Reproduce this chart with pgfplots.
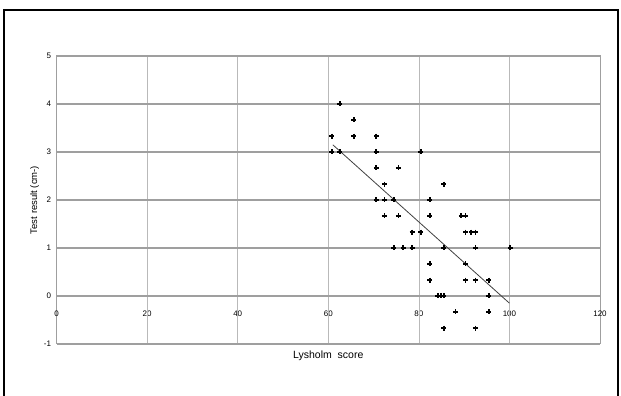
\documentclass[border=0pt]{standalone}
\usepackage{pgfplots}
\pgfplotsset{compat=1.18}
\usepackage{fontspec}
\setmainfont{Liberation Sans}
\begin{document}
\begin{tikzpicture}
\begin{axis}[
  at={(0,0)}, anchor=south west,
  scale only axis,
  width=543.4pt, height=288pt,
  xmin=0, xmax=120, ymin=-1, ymax=5,
  xtick={0,20,...,120}, ytick={-1,0,...,5},
  major tick length=0pt,
  axis line style={draw=gray!75, line width=1pt},
  xticklabel style={yshift=37pt, font=\fontsize{8}{9}\selectfont},
  yticklabel style={font=\fontsize{8}{9}\selectfont, xshift=-2pt},
  /pgf/number format/assume math mode=true,
  xlabel={Lysholm\ \ score},
  ylabel={Test result (cm-)},
  xlabel style={font=\fontsize{10.5}{12}\selectfont, yshift=-3pt},
  ylabel style={font=\fontsize{9.5}{11}\selectfont, yshift=-2pt},
  clip=false,
]
% grid lines
\pgfplotsinvokeforeach{20,40,60,80,100}{
  \addplot[gray!55, line width=0.6pt, forget plot] coordinates {(#1,-1) (#1,5)};
}
\pgfplotsinvokeforeach{-1,0,1,2,3,4,5}{
  \addplot[gray!75, line width=1.7pt, forget plot] coordinates {(0,#1) (120,#1)};
}
% regression line
\addplot[black!75, line width=0.8pt] coordinates {(61,3.15) (100,-0.15)};
% data
\addplot[only marks, mark=+, mark size=2.5pt, line width=1.9pt, black] coordinates {
(62.5,4.0)
(65.6,3.67)
(60.8,3.33) (65.6,3.33) (70.6,3.33)
(60.8,3.0) (62.5,3.0) (70.6,3.0) (80.4,3.0)
(70.6,2.67) (75.5,2.67)
(72.4,2.33) (85.5,2.33)
(70.6,2.0) (72.4,2.0) (74.5,2.0) (82.4,2.0)
(72.4,1.67) (75.5,1.67) (82.4,1.67) (89.4,1.67) (90.3,1.67)
(78.5,1.33) (80.4,1.33) (90.3,1.33) (91.6,1.33) (92.5,1.33)
(74.5,1.0) (76.5,1.0) (78.5,1.0) (85.5,1.0) (92.5,1.0) (100.2,1.0)
(82.4,0.67) (90.3,0.67)
(82.4,0.33) (90.3,0.33) (92.5,0.33) (95.4,0.33)
(84.2,0.0) (84.8,0.0) (85.5,0.0) (95.4,0.0)
(88.1,-0.33) (95.4,-0.33)
(85.5,-0.67) (92.5,-0.67)
};
\end{axis}
\draw[black, line width=1.8pt] (-52.6pt,-60pt) -- (-52.6pt,334pt) -- (561.4pt,334pt) -- (561.4pt,-60pt);
\pgfresetboundingbox
\path (-56.6pt,-52pt) rectangle (564.4pt,344pt);
\end{tikzpicture}
\end{document}
